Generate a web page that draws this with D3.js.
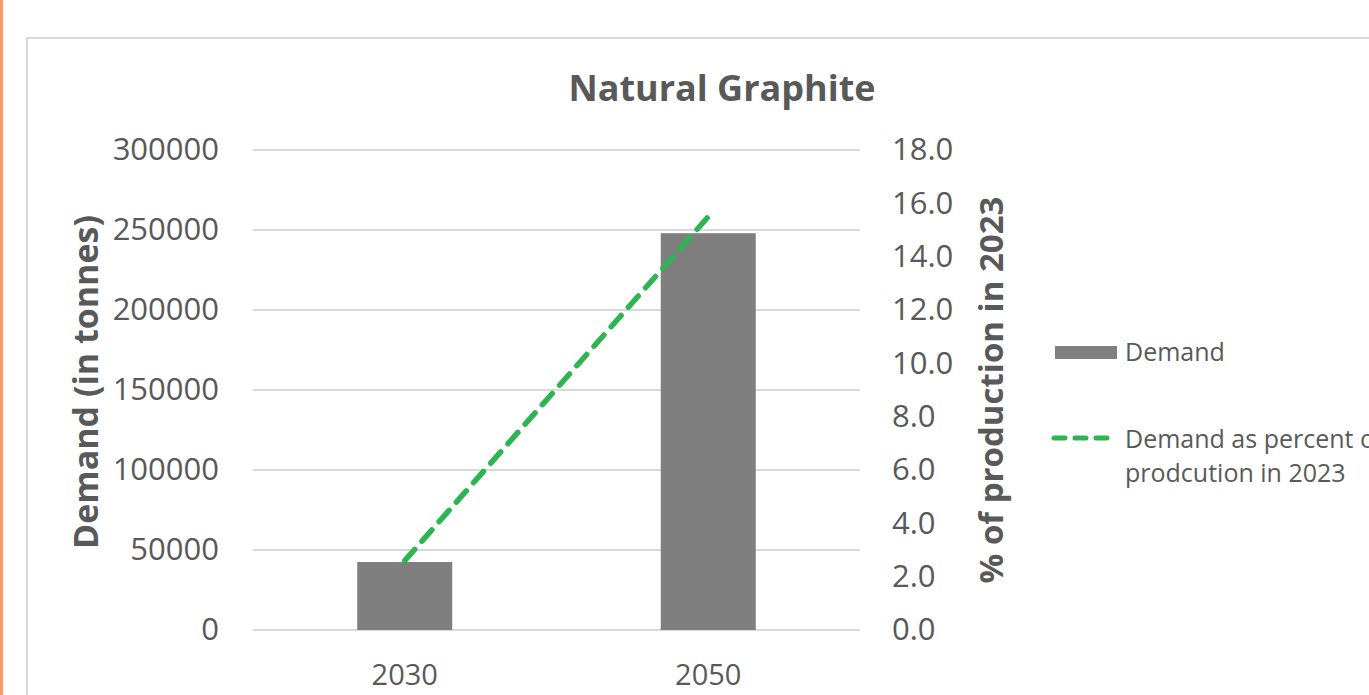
<!DOCTYPE html>
<html><head><meta charset="utf-8">
<script src="https://cdn.jsdelivr.net/npm/d3@7"></script>
<style>
html,body{margin:0;padding:0;background:#fff;}
text{font-family:"Open Sans","Noto Sans",sans-serif;}
</style></head>
<body>
<svg id="chart" width="1369" height="695"></svg>
<script>
const categories = ["2030", "2050"];
const demand = [42500, 248000];
const percentOfProduction = [2.6, 15.5];
const leftTicks = [0, 50000, 100000, 150000, 200000, 250000, 300000];
const rightTicks = [0, 2, 4, 6, 8, 10, 12, 14, 16, 18];
const title = "Natural Graphite";
const leftTitle = "Demand (in tonnes)";
const rightTitle = "% of production in 2023";
const legendLabels = ["Demand", ["Demand as percent of", "prodcution in 2023"]];

const svg = d3.select("#chart");
const textColor = "#595959";
const gridColor = "#d9d9d9";
const barColor = "#7f7f7f";
const lineColor = "#2db552";

// page decoration
svg.append("rect").attr("x", 0).attr("y", 0).attr("width", 3).attr("height", 695).attr("fill", "#f79b62");
svg.append("rect").attr("x", 27).attr("y", 38).attr("width", 1400).attr("height", 700)
  .attr("fill", "#fff").attr("stroke", gridColor).attr("stroke-width", 2);

const x = d3.scaleBand().domain(categories).range([253, 860]);
const y0 = d3.scaleLinear().domain([0, 300000]).range([630, 150]);
const y1 = d3.scaleLinear().domain([0, 18]).range([630, 150]);

// gridlines
svg.append("g").selectAll("line").data(leftTicks).join("line")
  .attr("x1", 253).attr("x2", 860)
  .attr("y1", d => y0(d)).attr("y2", d => y0(d))
  .attr("stroke", gridColor).attr("stroke-width", 2);

// left axis
const la = svg.append("g").attr("transform", "translate(253,0)")
  .call(d3.axisLeft(y0).tickValues(leftTicks).tickSize(0).tickPadding(34).tickFormat(d3.format("d")));
la.select(".domain").remove();
la.selectAll("text").attr("fill", textColor).style("font-size", "31px").style("font-family", "'Open Sans'");

// right axis
const ra = svg.append("g").attr("transform", "translate(860,0)")
  .call(d3.axisRight(y1).tickValues(rightTicks).tickSize(0).tickPadding(32).tickFormat(d3.format(".1f")));
ra.select(".domain").remove();
ra.selectAll("text").attr("fill", textColor).style("font-size", "31px").style("font-family", "'Open Sans'");

// bottom axis
const ba = svg.append("g").attr("transform", "translate(0,630)")
  .call(d3.axisBottom(x).tickSize(0).tickPadding(34));
ba.select(".domain").remove();
ba.selectAll("text").attr("fill", textColor).style("font-size", "29px").style("font-family", "'Open Sans'");

// bars
const barW = x.bandwidth() * 0.313;
svg.append("g").selectAll("rect").data(categories).join("rect")
  .attr("x", d => x(d) + x.bandwidth() / 2 - barW / 2)
  .attr("width", barW)
  .attr("y", (d, i) => y0(demand[i]))
  .attr("height", (d, i) => y0(0) - y0(demand[i]))
  .attr("fill", barColor);

// line
const line = d3.line()
  .x((d, i) => x(categories[i]) + x.bandwidth() / 2)
  .y(d => y1(d));
svg.append("path").datum(percentOfProduction).attr("d", line)
  .attr("fill", "none").attr("stroke", lineColor).attr("stroke-width", 5.5)
  .attr("stroke-dasharray", "15 11").attr("stroke-linecap", "round");

// titles
svg.append("text").attr("x", 722).attr("y", 101).attr("text-anchor", "middle")
  .attr("fill", textColor).style("font-size", "36px").style("font-weight", "bold").text(title);
svg.append("text").attr("transform", "translate(98,382) rotate(-90)").attr("text-anchor", "middle")
  .attr("fill", textColor).style("font-size", "34px").style("font-weight", "bold").text(leftTitle);
svg.append("text").attr("transform", "translate(1003,390) rotate(-90)").attr("text-anchor", "middle")
  .attr("fill", textColor).style("font-size", "33px").style("font-weight", "bold").text(rightTitle);

// legend
const lg = svg.append("g");
lg.append("rect").attr("x", 1055).attr("y", 346).attr("width", 62).attr("height", 13).attr("fill", barColor);
lg.append("text").attr("x", 1125).attr("y", 361).attr("fill", textColor).style("font-size", "25px").text(legendLabels[0]);
lg.append("line").attr("x1", 1054).attr("x2", 1116).attr("y1", 438).attr("y2", 438)
  .attr("stroke", lineColor).attr("stroke-width", 5).attr("stroke-dasharray", "11 10").attr("stroke-linecap", "round");
const t2 = lg.append("text").attr("x", 1125).attr("y", 448).attr("fill", textColor).style("font-size", "25px");
legendLabels[1].forEach((s, i) => t2.append("tspan").attr("x", 1125).attr("dy", i ? 34 : 0).text(s));
</script>
</body></html>
